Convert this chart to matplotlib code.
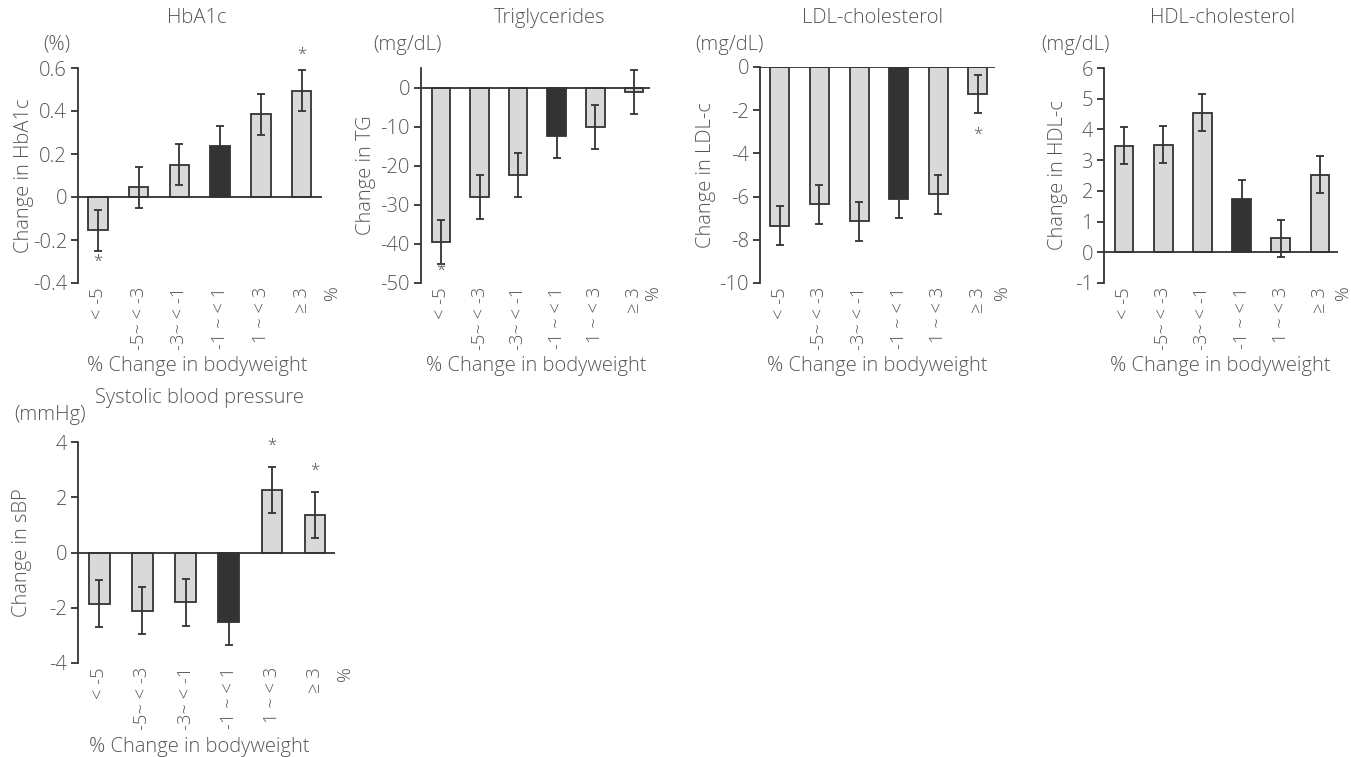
import numpy as np
import matplotlib
matplotlib.use('Agg')
import matplotlib.pyplot as plt
import matplotlib.transforms as mtransforms

# categories (% change in bodyweight)
groups = ['< -5', '-5~ < -3', '-3~ < -1', '-1 ~ < 1', '1 ~ < 3', '≥ 3']

hba1c_mean = [-0.155, 0.045, 0.15, 0.235, 0.385, 0.495]
hba1c_err = [0.095, 0.095, 0.095, 0.095, 0.095, 0.095]
hba1c_star = {0: -0.30, 5: 0.66}

tg_mean = [-39.5, -28.0, -22.4, -12.3, -10.1, -1.2]
tg_err = [5.6, 5.6, 5.6, 5.6, 5.6, 5.6]
tg_star = {0: -46.8}

ldl_mean = [-7.35, -6.35, -7.15, -6.1, -5.9, -1.25]
ldl_err = [0.9, 0.9, 0.9, 0.9, 0.9, 0.9]
ldl_star = {5: -3.15}

hdl_mean = [3.47, 3.5, 4.55, 1.75, 0.46, 2.52]
hdl_err = [0.6, 0.6, 0.6, 0.6, 0.6, 0.6]
hdl_star = {}

sbp_mean = [-1.85, -2.1, -1.8, -2.5, 2.27, 1.37]
sbp_err = [0.85, 0.85, 0.85, 0.85, 0.83, 0.83]
sbp_star = {4: 3.85, 5: 2.95}

ref_idx = 3  # reference group drawn dark

###########
# plotting
###########
W, H = 1351, 757
text_col = '#555555'
line_col = '#333333'
light = '#d9d9d9'
dark = '#333333'

plt.rcParams.update({
    'font.family': ['Open Sans', 'DejaVu Sans'],
    'font.weight': 'light',
    'font.size': 13,
    'axes.unicode_minus': False,
    'text.color': text_col,
    'xtick.color': text_col,
    'ytick.color': line_col,
    'ytick.labelcolor': text_col,
})

fig = plt.figure(figsize=(W / 100, H / 100), dpi=100)


def px_box(x0, y0, x1, y1):
    # pixel box (top-left origin) -> figure fraction rect
    return [x0 / W, 1 - y1 / H, (x1 - x0) / W, (y1 - y0) / H]


def ftext(xy, s, **kw):
    fig.text(xy[0] / W, 1 - xy[1] / H, s, ha='center', va='center',
             fontsize=14.5, **kw)


def panel(box, means, errs, stars, ylim, yticks, yticklabels,
          title, title_xy, unit, unit_xy, ylabel, ylabel_x, pct_x,
          xlabel_xy, xr):
    ax = fig.add_axes(px_box(*box))
    x = np.arange(len(groups))
    colors = [dark if i == ref_idx else light for i in x]
    ax.bar(x, means, width=0.48, color=colors, edgecolor=line_col,
           linewidth=1.3, zorder=2)
    ax.errorbar(x, means, yerr=errs, fmt='none', ecolor=line_col,
                elinewidth=1.3, capsize=3, capthick=1.3, zorder=3)
    ax.axhline(0, color=line_col, linewidth=1.3, zorder=4)

    for i, yv in stars.items():
        ax.text(i, yv, '*', ha='center', va='center', fontsize=12,
                color=text_col)

    ax.set_xlim(*xr)
    ax.set_ylim(*ylim)
    ax.set_yticks(yticks)
    ax.set_yticklabels(yticklabels, fontsize=14.5)
    ax.tick_params(axis='y', direction='out', length=5, width=1.3, pad=3)

    ax.set_xticks(x)
    ax.set_xticklabels(groups, rotation=90, fontsize=13.2)
    ax.tick_params(axis='x', length=0, pad=3)

    for s in ['top', 'right', 'bottom']:
        ax.spines[s].set_visible(False)
    ax.spines['left'].set_linewidth(1.3)
    ax.spines['left'].set_color(line_col)

    trans = mtransforms.blended_transform_factory(ax.transData, ax.transAxes)
    ax.text(pct_x, -0.012, '%', rotation=90, ha='center', va='top',
            fontsize=13.2, transform=trans, clip_on=False)

    # y label, centred on the axes height
    ftext((ylabel_x, (box[1] + box[3]) / 2), ylabel, rotation=90)
    ftext(title_xy, title)
    ftext(unit_xy, unit)
    ftext(xlabel_xy, '% Change in bodyweight')
    return ax


panel((78, 68, 322, 283), hba1c_mean, hba1c_err, hba1c_star,
      (-0.4, 0.6), [-0.4, -0.2, 0, 0.2, 0.4, 0.6],
      ['-0.4', '-0.2', '0', '0.2', '0.4', '0.6'],
      'HbA1c', (197, 18), '(%)', (57, 45), 'Change in HbA1c', 24,
      5.74, (197, 366), (-0.49, 5.5))

panel((421, 68, 650, 283), tg_mean, tg_err, tg_star,
      (-50, 5), [-50, -40, -30, -20, -10, 0],
      ['-50', '-40', '-30', '-20', '-10', '0'],
      'Triglycerides', (550, 18), '(mg/dL)', (408, 45), 'Change in TG', 366,
      5.5, (536, 366), (-0.52, 5.42))

panel((760, 67, 995, 283), ldl_mean, ldl_err, ldl_star,
      (-10, 0), [-10, -8, -6, -4, -2, 0],
      ['-10', '-8', '-6', '-4', '-2', '0'],
      'LDL-cholesterol', (873, 18), '(mg/dL)', (730, 45), 'Change in LDL-c',
      706, 5.6, (877, 366), (-0.5, 5.43))

panel((1104, 68, 1338, 283), hdl_mean, hdl_err, hdl_star,
      (-1, 6), [-1, 0, 1, 2, 3, 4, 5, 6],
      ['-1', '0', '1', '2', '3', '4', '5', '6'],
      'HDL-cholesterol', (1222, 18), '(mg/dL)', (1075, 45), 'Change in HDL-c',
      1058, 5.58, (1220, 366), (-0.51, 5.46))

panel((78, 442, 335, 663), sbp_mean, sbp_err, sbp_star,
      (-4, 4), [-4, -2, 0, 2, 4],
      ['-4', '-2', '0', '2', '4'],
      'Systolic blood pressure', (199, 398), '(mmHg)', (50, 415),
      'Change in sBP', 22, 5.69, (199, 747), (-0.49, 5.46))

fig.savefig('out.png', dpi=100)
